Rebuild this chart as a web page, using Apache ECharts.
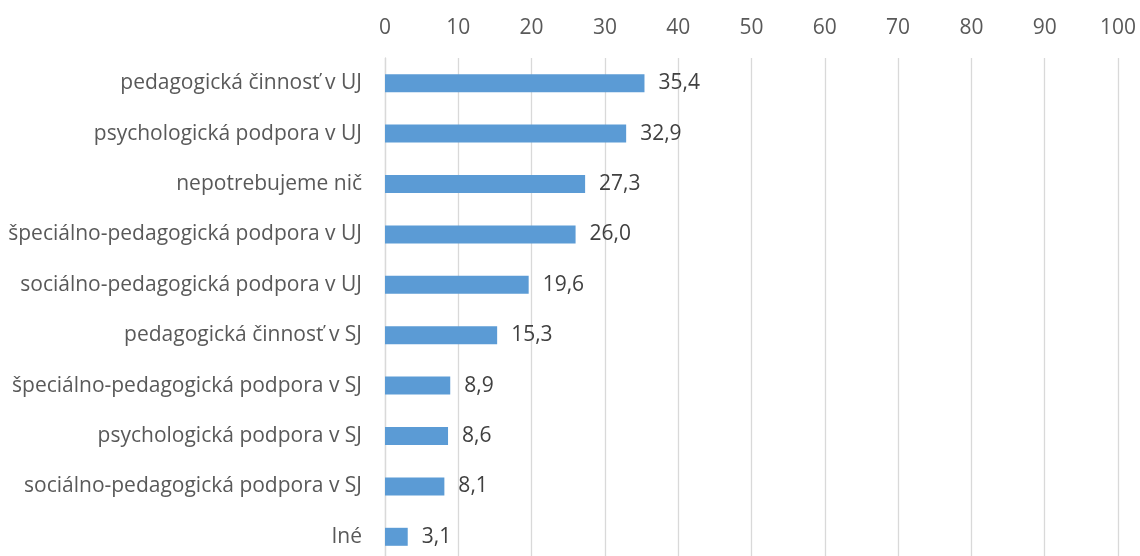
<!DOCTYPE html>
<html><head><meta charset="utf-8">
<script src="https://cdn.jsdelivr.net/npm/echarts@6/dist/echarts.min.js"></script>
<style>html,body{margin:0;padding:0;background:#fff}#c{width:1140px;height:556px}</style>
</head><body><div id="c"></div>
<script>
const categories = ["pedagogická činnosť v UJ","psychologická podpora v UJ","nepotrebujeme nič","špeciálno-pedagogická podpora v UJ","sociálno-pedagogická podpora v UJ","pedagogická činnosť v SJ","špeciálno-pedagogická podpora v SJ","psychologická podpora v SJ","sociálno-pedagogická podpora v SJ","Iné"];
const values = [35.4,32.9,27.3,26.0,19.6,15.3,8.9,8.6,8.1,3.1];
const xTicks = [0,10,20,30,40,50,60,70,80,90,100];
const chart = echarts.init(document.getElementById('c'), null, {renderer:'canvas'});
const font = '"Open Sans", sans-serif';
chart.setOption({
  animation:false,
  grid:{left:385,right:22,top:58,height:504,containLabel:false,outerBoundsMode:'none'},
  xAxis:{type:'value',position:'top',min:xTicks[0],max:xTicks[xTicks.length-1],interval:10,
    axisLine:{show:false},axisTick:{show:false},
    splitLine:{lineStyle:{color:'#d9d9d9',width:1.3}},
    axisLabel:{color:'#595959',fontSize:21,fontFamily:font,margin:19}},
  yAxis:{type:'category',inverse:true,data:categories,
    axisLine:{show:true,lineStyle:{color:'#d9d9d9',width:1.3}},axisTick:{show:false},
    axisLabel:{color:'#595959',fontSize:21,fontFamily:font,margin:23}},
  series:[{type:'bar',data:values,barWidth:18,itemStyle:{color:'#5b9bd5'},
    label:{show:true,position:'right',distance:14,color:'#404040',fontSize:21,fontFamily:font,
      formatter:p=>p.value.toFixed(1).replace('.',',')}}]
});
</script></body></html>
